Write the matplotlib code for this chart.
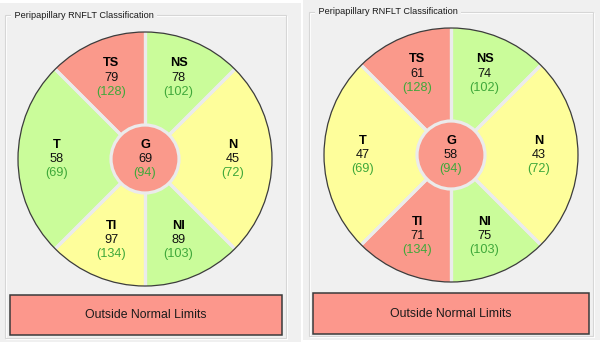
import matplotlib
matplotlib.use("Agg")
import matplotlib.pyplot as plt
from matplotlib.patches import Wedge, Circle, Rectangle
import numpy as np

# ---------------- data ----------------
title = "Peripapillary RNFLT Classification"
sectors = ["TS", "NS", "N", "NI", "TI", "T"]
# visual angle ranges (deg, counter-clockwise from +x)
sector_angles = [(90, 135), (45, 90), (-45, 45), (-90, -45), (-135, -90), (135, 225)]
normals = {"TS": 128, "NS": 102, "N": 72, "NI": 103, "TI": 134, "T": 69, "G": 94}

left_values = {"TS": 79, "NS": 78, "N": 45, "NI": 89, "TI": 97, "T": 58, "G": 69}
left_class = {"TS": "red", "NS": "green", "N": "yellow", "NI": "green", "TI": "yellow", "T": "green", "G": "red"}
right_values = {"TS": 61, "NS": 74, "N": 43, "NI": 75, "TI": 71, "T": 47, "G": 58}
right_class = {"TS": "red", "NS": "green", "N": "yellow", "NI": "green", "TI": "red", "T": "yellow", "G": "red"}
verdict = "Outside Normal Limits"

colors = {"red": "#FA998B", "green": "#CAFC9A", "yellow": "#FEFE9B"}
BG = "#F0F0F0"
SEP = "#EBEBEB"
GREEN_TXT = "#3FA83A"
FONT = ["Liberation Sans", "DejaVu Sans"]
FS = 9.2

fig = plt.figure(figsize=(6, 3.48), dpi=100, facecolor="white")
ax = fig.add_axes([0, 0, 1, 1])
ax.set_xlim(0, 600)
ax.set_ylim(348, 0)
ax.axis("off")


def panel(x0, x1, y0, y1, fx0, fx1, fy0, fy1, tx, ty, cx, cy, R, values, cls, bx0, bx1, by0, by1):
    ax.add_patch(Rectangle((x0, y0), x1 - x0, y1 - y0, facecolor=BG, edgecolor="none", zorder=0))
    # group box frame
    ax.add_patch(Rectangle((fx0 + 1, fy0 + 1), fx1 - fx0, fy1 - fy0, facecolor="none",
                           edgecolor="white", lw=0.8, zorder=1))
    ax.add_patch(Rectangle((fx0, fy0), fx1 - fx0, fy1 - fy0, facecolor="none",
                           edgecolor="#D6D6D6", lw=0.8, zorder=1))
    ax.text(tx, ty, " " + title + " ", fontsize=6.6, family=FONT,
            va="center", ha="left", color="#1A1A1A", zorder=2,
            bbox=dict(facecolor=BG, edgecolor="none", pad=0.5))
    # sectors
    for name, (a, b) in zip(sectors, sector_angles):
        ax.add_patch(Wedge((cx, cy), R, -b, -a, facecolor=colors[cls[name]], edgecolor="none", zorder=3))
        for ang in (a, b):
            ax.plot([cx, cx + R * np.cos(np.radians(ang))], [cy, cy - R * np.sin(np.radians(ang))],
                    color=SEP, lw=2.3, solid_capstyle="butt", zorder=4)
        m = np.radians((a + b) / 2)
        px, py = cx + 88 * np.cos(m), cy - 88 * np.sin(m)
        ax.text(px, py - 14.5, name, fontsize=FS, fontweight="bold", family=FONT, ha="center", va="center", zorder=6)
        ax.text(px, py, str(values[name]), fontsize=FS, family=FONT, ha="center", va="center", color="#111111", zorder=6)
        ax.text(px, py + 14, "(%d)" % normals[name], fontsize=FS, family=FONT, ha="center", va="center",
                color=GREEN_TXT, zorder=6)
    # center G
    ax.add_patch(Circle((cx, cy), 34, facecolor=colors[cls["G"]], edgecolor=SEP, lw=2.3, zorder=5))
    ax.text(cx, cy - 14.5, "G", fontsize=FS, fontweight="bold", family=FONT, ha="center", va="center", zorder=6)
    ax.text(cx, cy, str(values["G"]), fontsize=FS, family=FONT, ha="center", va="center", color="#111111", zorder=6)
    ax.text(cx, cy + 14, "(%d)" % normals["G"], fontsize=FS, family=FONT, ha="center", va="center",
            color=GREEN_TXT, zorder=6)
    # outer ring
    ax.add_patch(Circle((cx, cy), R, facecolor="none", edgecolor="#3C3C3C", lw=0.9, zorder=7))
    # verdict box
    ax.add_patch(Rectangle((bx0, by0), bx1 - bx0, by1 - by0, facecolor="#FC978C",
                           edgecolor="#3A3A3A", lw=1.1, zorder=3))
    ax.text((bx0 + bx1) / 2, (by0 + by1) / 2 + 0.5, verdict, fontsize=8.8, family=FONT,
            ha="center", va="center", color="#1A1A1A", zorder=6)


panel(0, 301, 3, 342, 5, 286, 15, 338, 12, 15, 145, 159, 127, left_values, left_class, 10, 282, 295, 335)
panel(303, 600, 0, 340, 309, 593, 12, 336, 316, 11, 451, 155, 127, right_values, right_class, 313, 589, 293, 334)

fig.savefig("out.png", dpi=100, facecolor="white")
